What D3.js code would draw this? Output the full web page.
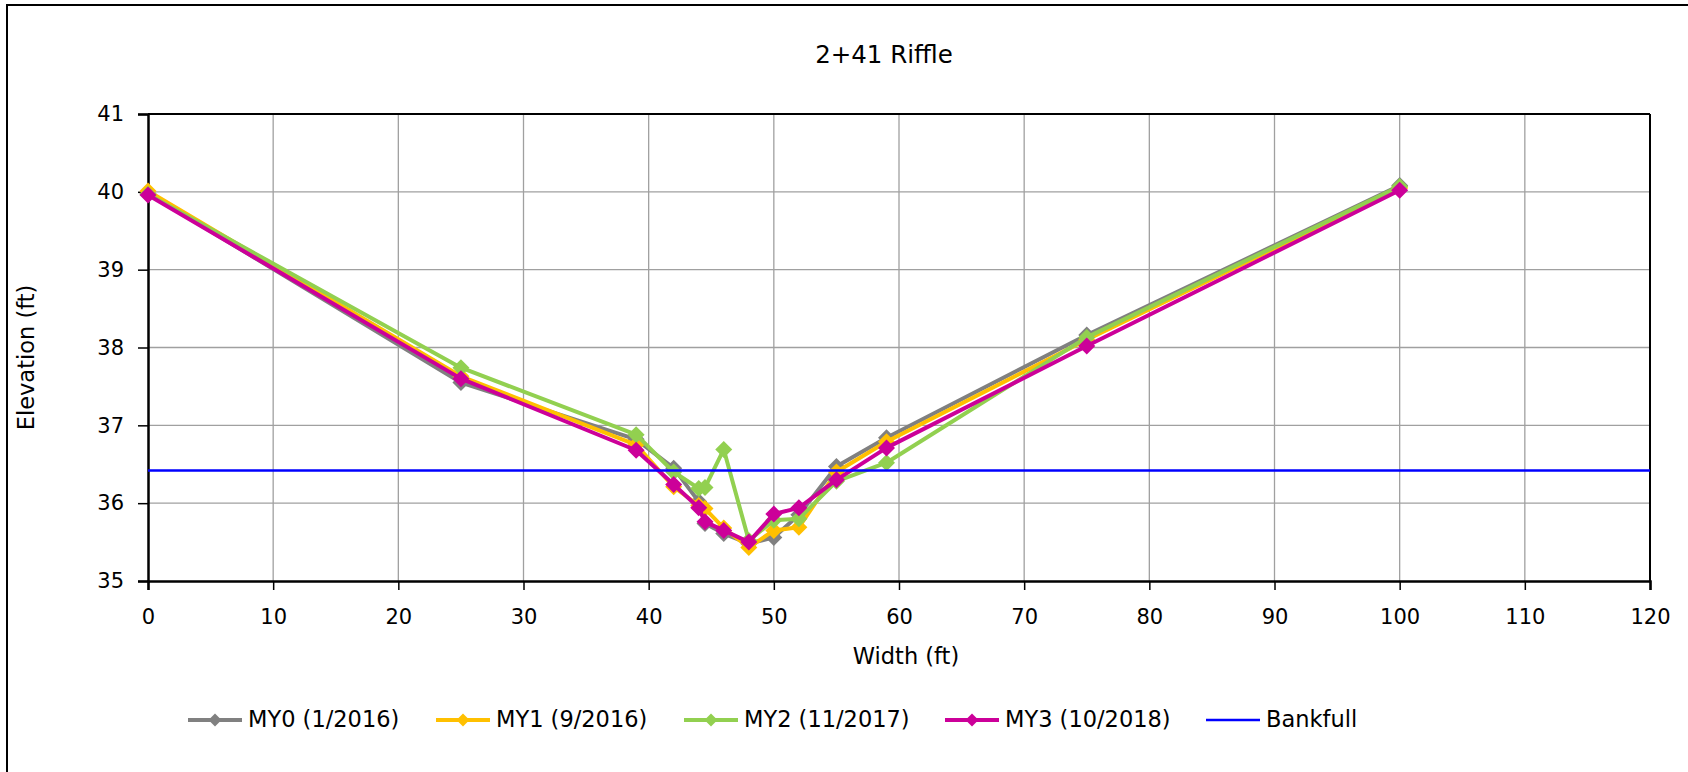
<!DOCTYPE html>
<html>
<head>
<meta charset="utf-8">
<script src="https://cdn.jsdelivr.net/npm/d3@7"></script>
<style>
  html, body { margin: 0; padding: 0; background: #fff; }
  svg { display: block; }
  text { font-family: "DejaVu Sans", sans-serif; fill: #000; }
</style>
</head>
<body>
<svg id="chart" width="1688" height="772"></svg>
<script>
// ---- data ----
const stations = [0, 25, 39, 42, 44, 44.5, 46, 48, 50, 52, 55, 59, 75, 100];
const my0 = [39.98, 37.55, 36.82, 36.45, 36.02, 35.74, 35.61, 35.48, 35.56, 35.85, 36.47, 36.84, 38.16, 40.08];
const my1 = [40.01, 37.63, 36.75, 36.21, 35.97, 35.93, 35.68, 35.43, 35.65, 35.69, 36.40, 36.79, 38.10, 40.05];
const my2 = [39.97, 37.74, 36.88, 36.40, 36.19, 36.20, 36.69, 35.52, 35.78, 35.80, 36.28, 36.52, 38.13, 40.07];
const my3 = [39.96, 37.60, 36.68, 36.24, 35.94, 35.76, 35.65, 35.50, 35.86, 35.94, 36.30, 36.71, 38.02, 40.02];
const bankfullX = [0, 120];
const bankfullY = [36.42, 36.42];
const seriesNames = ["MY0 (1/2016)", "MY1 (9/2016)", "MY2 (11/2017)", "MY3 (10/2018)"];
const bankfullName = "Bankfull";
const xTicks = [0, 10, 20, 30, 40, 50, 60, 70, 80, 90, 100, 110, 120];
const yTicks = [35, 36, 37, 38, 39, 40, 41];
const title = "2+41 Riffle";
const xTitle = "Width (ft)";
const yTitle = "Elevation (ft)";

// ---- layout ----
const colors = ["#808080", "#FFC000", "#92D050", "#CC0099"];
const bankColor = "#0000FF";
const L = 148, R = 1650, T = 114, B = 581;

const svg = d3.select("#chart");

// outer chart border
svg.append("rect").attr("x", 7).attr("y", 5).attr("width", 1700).attr("height", 800)
  .attr("fill", "none").attr("stroke", "#000").attr("stroke-width", 2);

const x = d3.scaleLinear().domain([0, 120]).range([L, R]);
const y = d3.scaleLinear().domain([35, 41]).range([B, T]);

// gridlines
const grid = svg.append("g");
grid.selectAll(".vg").data(xTicks.slice(1, -1)).join("line")
  .attr("x1", d => x(d)).attr("x2", d => x(d)).attr("y1", T).attr("y2", B)
  .attr("stroke", "#A0A0A0").attr("stroke-width", 1.3);
grid.selectAll(".hg").data(yTicks.slice(1, -1)).join("line")
  .attr("y1", d => y(d)).attr("y2", d => y(d)).attr("x1", L).attr("x2", R)
  .attr("stroke", "#A0A0A0").attr("stroke-width", 1.3);

// plot frame top/right
svg.append("line").attr("x1", L).attr("x2", R).attr("y1", T).attr("y2", T).attr("stroke", "#000").attr("stroke-width", 2);
svg.append("line").attr("x1", R).attr("x2", R).attr("y1", T).attr("y2", B).attr("stroke", "#000").attr("stroke-width", 2);

// axes
const xAxis = d3.axisBottom(x).tickValues(xTicks).tickSize(9).tickPadding(19).tickFormat(d3.format("d"));
const yAxis = d3.axisLeft(y).tickValues(yTicks).tickSize(10).tickPadding(14).tickFormat(d3.format("d"));
const gx = svg.append("g").attr("transform", `translate(0,${B})`).call(xAxis);
const gy = svg.append("g").attr("transform", `translate(${L},0)`).call(yAxis);
[gx, gy].forEach(g => {
  g.select(".domain").attr("stroke", "#000").attr("stroke-width", 2.5);
  g.selectAll(".tick line").attr("stroke", "#000").attr("stroke-width", 1.5);
  g.selectAll(".tick text").attr("font-size", 21).attr("font-family", "DejaVu Sans").attr("fill", "#000");
});

// series
const diamond = r => `M0,${-r}L${r},0L0,${r}L${-r},0Z`;
const line = d3.line().x(d => x(d[0])).y(d => y(d[1]));
const allSeries = [my0, my1, my2, my3];
allSeries.forEach((vals, i) => {
  const pts = stations.map((s, k) => [s, vals[k]]);
  svg.append("path").datum(pts).attr("d", line)
    .attr("fill", "none").attr("stroke", colors[i]).attr("stroke-width", 4).attr("stroke-linejoin", "round");
  svg.append("g").selectAll("path").data(pts).join("path")
    .attr("transform", d => `translate(${x(d[0])},${y(d[1])})`)
    .attr("d", diamond(8.5)).attr("fill", colors[i]);
});

// bankfull
svg.append("path").datum(bankfullX.map((d, k) => [d, bankfullY[k]])).attr("d", line)
  .attr("fill", "none").attr("stroke", bankColor).attr("stroke-width", 2.4);

// titles
svg.append("text").attr("x", 884).attr("y", 56).attr("text-anchor", "middle")
  .attr("dominant-baseline", "middle").attr("font-size", 24.5).text(title);
svg.append("text").attr("x", (L + R) / 2 + 7).attr("y", 657).attr("text-anchor", "middle")
  .attr("dominant-baseline", "middle").attr("font-size", 22.5).text(xTitle);
svg.append("text").attr("transform", `translate(27,${(T + B) / 2 + 10}) rotate(-90)`)
  .attr("text-anchor", "middle").attr("dominant-baseline", "middle").attr("font-size", 22.5).text(yTitle);

// legend
const legendX = [188, 436, 684, 945, 1206];
const legendY = 720;
const legendItems = seriesNames.map((n, i) => ({ name: n, color: colors[i], marker: true }))
  .concat([{ name: bankfullName, color: bankColor, marker: false }]);
const lg = svg.append("g").selectAll("g").data(legendItems).join("g")
  .attr("transform", (d, i) => `translate(${legendX[i]},${legendY})`);
lg.append("line").attr("x1", 0).attr("x2", 54).attr("y1", 0).attr("y2", 0)
  .attr("stroke", d => d.color).attr("stroke-width", d => d.marker ? 4 : 2.5);
lg.filter(d => d.marker).append("path").attr("transform", "translate(27,0)")
  .attr("d", diamond(6.5)).attr("fill", d => d.color);
lg.append("text").attr("x", 60).attr("y", 0).attr("dominant-baseline", "middle")
  .attr("font-size", 22.5).text(d => d.name);
</script>
</body>
</html>
